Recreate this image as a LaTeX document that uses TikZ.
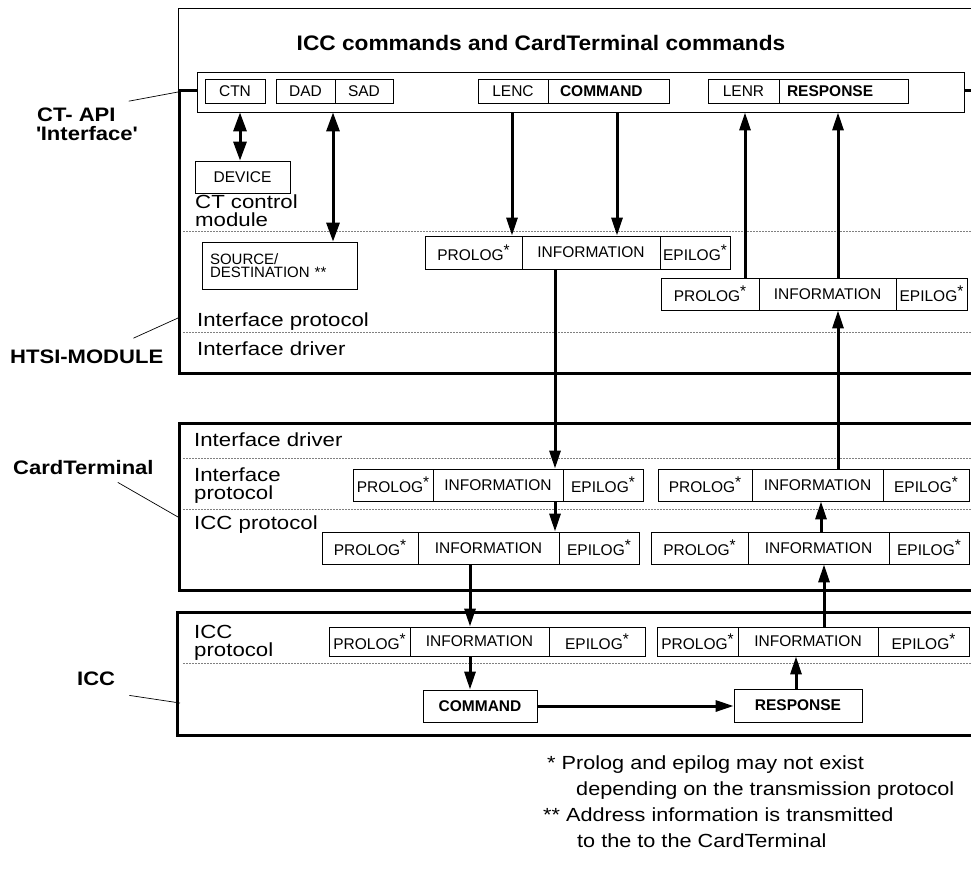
\documentclass[tikz,border=0pt]{standalone}
\usepackage{fontspec}
\setmainfont{Liberation Sans}
\newfontfamily\widesans[FakeStretch=1.17]{Liberation Sans}
\newfontfamily\footsans[FakeStretch=1.14]{Liberation Sans}
\newfontfamily\widebold[FakeStretch=1.13]{Liberation Sans}
\newfontfamily\titlebold[FakeStretch=1.08]{Liberation Sans}
\usetikzlibrary{arrows.meta,calc}

\newcommand\pstar{\raisebox{0.3em}{*}}

\tikzset{
  thinbox/.style={draw, line width=0.8pt, fill=white, inner sep=0pt},
  cell/.style={draw, line width=0.8pt, fill=white, inner sep=0pt,
    font=\fontsize{15.5}{16}\selectfont},
  cellb/.style={cell, font=\bfseries\fontsize{15.5}{16}\selectfont},
  module/.style={draw, line width=3pt},
  layer/.style={dash pattern=on 2pt off 1pt, line width=0.6pt, gray},
  arr/.style={line width=3pt, -{Triangle[length=18pt,width=11pt]}},
  darr/.style={line width=3pt,
    {Triangle[length=19pt,width=13pt]}-{Triangle[length=19pt,width=13pt]}},
  lead/.style={line width=0.7pt},
  layertext/.style={anchor=base west, inner sep=0pt,
    font=\widesans\fontsize{19}{19}\selectfont},
  sidelabel/.style={anchor=base west, inner sep=0pt,
    font=\widebold\bfseries\fontsize{19.5}{20}\selectfont},
  foot/.style={anchor=base west, inner sep=0pt,
    font=\footsans\fontsize{19}{19}\selectfont},
}

% frame split into PROLOG | INFORMATION | EPILOG
% #1 name, #2 left, #3 first divider, #4 second divider, #5 right, #6 top, #7 bottom
\newcommand\pdu[7]{%
  \pgfmathsetmacro\pduy{(#6+#7)/2}%
  \pgfmathsetmacro\pduh{#7-#6}%
  \pgfmathsetmacro\pduxa{(#2+#3)/2}\pgfmathsetmacro\pduwa{#3-#2}%
  \pgfmathsetmacro\pduxb{(#3+#4)/2}\pgfmathsetmacro\pduwb{#4-#3}%
  \pgfmathsetmacro\pduxc{(#4+#5)/2}\pgfmathsetmacro\pduwc{#5-#4}%
  \node[cell, minimum width=\pduwa pt, minimum height=\pduh pt] (#1-p) at (\pduxa,\pduy) {PROLOG\pstar};%
  \node[cell, minimum width=\pduwb pt, minimum height=\pduh pt] (#1-i) at (\pduxb,\pduy) {INFORMATION};%
  \node[cell, minimum width=\pduwc pt, minimum height=\pduh pt] (#1-e) at (\pduxc,\pduy) {EPILOG\pstar};%
}

\begin{document}
\begin{tikzpicture}[x=1pt,y=-1pt]
\clip (0,0) rectangle (971,868);
\useasboundingbox (0,0) rectangle (971,868);

% ---- module frames ----
\draw[line width=0.8pt] (178,8) rectangle (990,90);
\draw[module] (179,90) rectangle (990,373);
\draw[module] (179,423) rectangle (990,590);
\draw[module] (177,612) rectangle (990,735);

% ---- layer separators ----
\draw[layer] (183,231) -- (971,231);
\draw[layer] (183,332) -- (971,332);
\draw[layer] (183,458) -- (971,458);
\draw[layer] (183,509) -- (971,509);
\draw[layer] (183,663) -- (971,663);

% ---- CT-API ----
\node[font=\titlebold\bfseries\fontsize{21}{21}\selectfont] (title) at (541,43)
  {ICC commands and CardTerminal commands};
\node[thinbox, minimum width=767pt, minimum height=40pt] (bar) at (580.5,92) {};
\node[cell, minimum width=60pt, minimum height=24pt] (ctn) at (235,91) {CTN};
\node[cell, minimum width=59pt, minimum height=24pt] (dad) at (305.5,91) {DAD};
\node[cell, minimum width=58pt, minimum height=24pt] (sad) at (364,91) {SAD};
\node[cell, minimum width=70pt, minimum height=24pt] (lenc) at (513,91) {LENC};
\node[cellb, minimum width=121pt, minimum height=24pt, text width=97pt, align=left]
  (tcmd) at (608.5,91) {COMMAND};
\node[cell, minimum width=71pt, minimum height=24pt] (lenr) at (743.5,91) {LENR};
\node[cellb, minimum width=129pt, minimum height=24pt, text width=113pt, align=left]
  (trsp) at (843.5,91) {RESPONSE};

% ---- HTSI module ----
\node[cell, minimum width=95pt, minimum height=32pt] (dev) at (242.5,177) {DEVICE};
\node[layertext] (ctc1) at (195,208) {CT control};
\node[layertext] (ctc2) at (195,226) {module};
\node[cell, minimum width=155pt, minimum height=47pt, text width=139pt, align=left,
  font=\fontsize{15}{13.5}\selectfont] (src) at (279.5,265.5) {SOURCE/\\DESTINATION **};
\node[layertext] (hip) at (197,326) {Interface protocol};
\node[layertext] (hid) at (197,355) {Interface driver};
\pdu{hc}{425}{522}{660}{730}{236}{269}
\pdu{hr}{661}{759}{896}{967}{278}{310}

% ---- CardTerminal ----
\node[layertext] (cid) at (194,446) {Interface driver};
\node[layertext] (cip1) at (194,481) {Interface};
\node[layertext] (cip2) at (194,499) {protocol};
\node[layertext] (cicc) at (194,529) {ICC protocol};
\pdu{tc}{353}{433}{563}{643}{469}{501}
\pdu{tr}{658}{752}{883}{969}{469}{501}
\pdu{uc}{322}{418}{559}{639}{532}{564}
\pdu{ur}{651}{748}{889}{969}{532}{564}

% ---- ICC ----
\node[layertext] (iic1) at (194,638) {ICC};
\node[layertext] (iic2) at (194,656) {protocol};
\pdu{ic}{329}{410}{549}{645}{627}{656}
\pdu{ir}{657}{738}{878}{969}{627}{656}
\node[cellb, minimum width=114pt, minimum height=32pt] (icmd) at (480,706) {COMMAND};
\node[cellb, minimum width=128pt, minimum height=33pt] (irsp) at (798,705.5) {RESPONSE};

% ---- side labels and leaders ----
\node[sidelabel] (api1) at (37,121) {CT- API};
\node[sidelabel] (api2) at (36,140) {\textquotesingle Interface\textquotesingle};
\node[sidelabel] (htsi) at (10,363) {HTSI-MODULE};
\node[sidelabel] (cterm) at (13,474) {CardTerminal};
\node[sidelabel] (icc) at (77,685) {ICC};
\coordinate (apiEnd) at (178,92);
\coordinate (htsiEnd) at (178,318);
\coordinate (ctEnd) at (178,517);
\coordinate (iccEnd) at (180,703);
\draw[lead] ([xshift=13pt,yshift=6pt]api1.north east) -- (apiEnd);
\draw[lead] ([xshift=-30pt,yshift=11pt]htsi.north east) -- (htsiEnd);
\draw[lead] ([xshift=-36pt,yshift=-8pt]cterm.south east) -- (ctEnd);
\draw[lead] ([xshift=14pt,yshift=-10pt]icc.south east) -- (iccEnd);

% ---- data flow ----
\coordinate (xctn) at (240,0);
\coordinate (xdad) at (333,0);
\coordinate (xlenc) at (512,0);
\coordinate (xcmd) at (617,0);
\coordinate (xlenr) at (745,0);
\coordinate (xresp) at (838,0);
\coordinate (xdn) at (555,0);
\coordinate (xdnb) at (470,0);
\coordinate (xupa) at (821,0);
\coordinate (xupb) at (824,0);
\coordinate (xupc) at (796,0);

\draw[darr] (xctn |- bar.south) -- (xctn |- dev.north);
\draw[darr] (xdad |- bar.south) -- (xdad |- src.north);
\draw[arr] (xlenc |- bar.south) -- (xlenc |- hc-p.north);
\draw[arr] (xcmd |- bar.south) -- (xcmd |- hc-i.north);
\draw[arr] (xlenr |- hr-p.north) -- (xlenr |- bar.south);
\draw[arr] (xresp |- hr-i.north) -- (xresp |- bar.south);

\draw[arr] (xdn |- hc-i.south) -- (xdn |- tc-i.north);
\draw[arr] (xdn |- tc-i.south) -- (xdn |- uc-i.north);
\draw[arr] (xdnb |- uc-i.south) -- (xdnb |- ic-i.north);
\draw[arr] (xdnb |- ic-i.south) -- (xdnb |- icmd.north);
\draw[arr] (icmd.east) -- (icmd.east -| irsp.west);
\draw[arr] (xupc |- irsp.north) -- (xupc |- ir-i.south);
\draw[arr] (xupb |- ir-i.north) -- (xupb |- ur-i.south);
\draw[arr] (xupa |- ur-i.north) -- (xupa |- tr-i.south);
\draw[arr] (xresp |- tr-i.north) -- (xresp |- hr-i.south);

% ---- notes ----
\node[foot] (fn1) at (547,769) {* Prolog and epilog may not exist};
\node[foot] (fn2) at (576,795) {depending on the transmission protocol};
\node[foot] (fn3) at (543,821) {** Address information is transmitted};
\node[foot] (fn4) at (577,847) {to the to the CardTerminal};
\end{tikzpicture}
\end{document}
